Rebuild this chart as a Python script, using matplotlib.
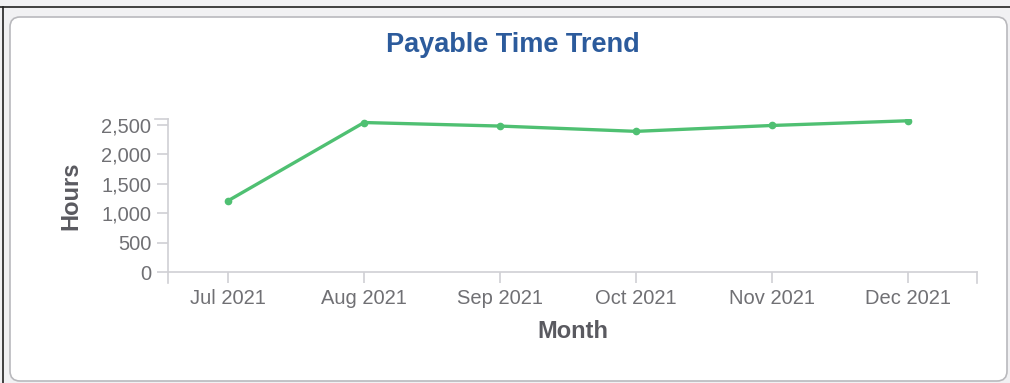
import matplotlib
matplotlib.use("Agg")
import matplotlib.pyplot as plt
from matplotlib.patches import FancyBboxPatch

months = ["Jul 2021", "Aug 2021", "Sep 2021", "Oct 2021", "Nov 2021", "Dec 2021"]
hours  = [1210, 2540, 2480, 2390, 2490, 2570]
y_ticks = [0, 500, 1000, 1500, 2000, 2500]

plt.rcParams["font.family"] = ["Liberation Sans", "DejaVu Sans"]

W, H = 1010, 383
fig = plt.figure(figsize=(W / 100, H / 100), dpi=100)
fig.patch.set_facecolor("#f1f1f3")

# background layer: frame lines + white card (pixel coords)
bg = fig.add_axes([0, 0, 1, 1], zorder=-10)
bg.set_xlim(0, W)
bg.set_ylim(H, 0)
bg.axis("off")
bg.plot([0, W], [7, 7], color="#222222", linewidth=1.2)
bg.plot([3, 3], [7, H], color="#222222", linewidth=1.2)
bg.add_patch(FancyBboxPatch((10, 17), 997, 364,
                            boxstyle="round,pad=0,rounding_size=10",
                            facecolor="white", edgecolor="#b9b9bd", linewidth=1.2))

ax = fig.add_axes([168 / W, 1 - 272 / H, (977 - 168) / W, (272 - 119) / H])
ax.set_facecolor("none")

x = list(range(len(months)))
ax.plot(x, hours, color="#4fc072", linewidth=2.4, marker="o", markersize=4.5,
        solid_capstyle="round", zorder=3)

ax.set_xlim(-0.441, 5.507)
ax.set_ylim(0, 2600)
ax.set_xticks(x)
ax.set_xticklabels(months)
ax.set_yticks(y_ticks)
ax.set_yticklabels([f"{v:,}" for v in y_ticks])

for s in ["top", "right"]:
    ax.spines[s].set_visible(False)
for s in ["left", "bottom"]:
    ax.spines[s].set_color("#d0d0d4")
    ax.spines[s].set_linewidth(1.2)

ax.tick_params(axis="both", colors="#d0d0d4", length=8, width=1.2,
               labelcolor="#707074", labelsize=14.5, pad=4)

# outer ticks at axis ends
ax.plot([0, 0], [0, -0.07], transform=ax.transAxes,
        color="#d0d0d4", linewidth=1.2, clip_on=False)
ax.plot([1, 1], [0, -0.07], transform=ax.transAxes,
        color="#d0d0d4", linewidth=1.2, clip_on=False)
ax.plot([0, -0.016], [1, 1], transform=ax.transAxes,
        color="#d0d0d4", linewidth=1.2, clip_on=False)

ax.set_xlabel("Month", fontsize=17, fontweight="bold", color="#5a5a60", labelpad=9)
ax.set_ylabel("Hours", fontsize=17, fontweight="bold", color="#5a5a60", labelpad=14)

fig.text(513 / W, 1 - 45 / H, "Payable Time Trend", ha="center", va="center",
         fontsize=19.5, fontweight="bold", color="#2c5b9c")

fig.savefig("out.png", dpi=100, facecolor=fig.get_facecolor())
plt.close(fig)
